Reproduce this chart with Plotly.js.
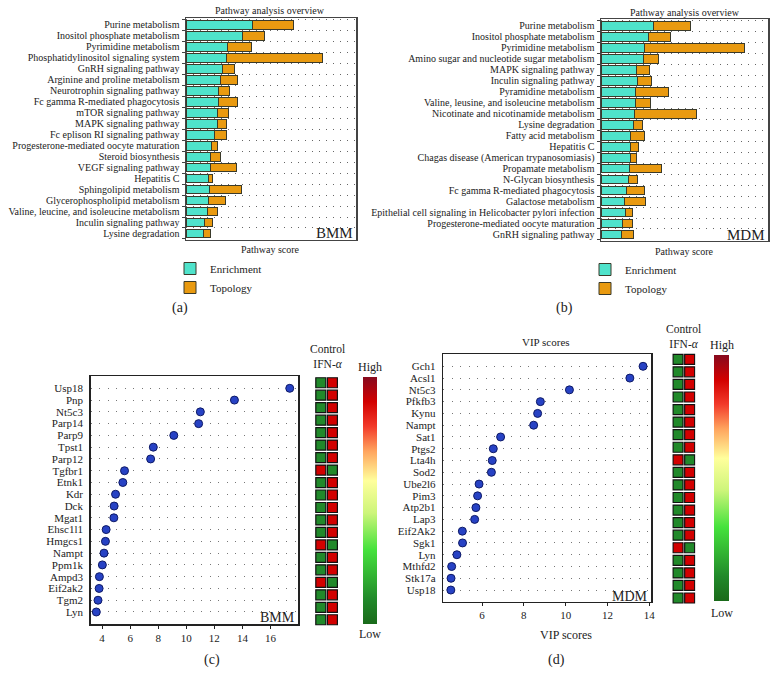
<!DOCTYPE html>
<html>
<head>
<meta charset="utf-8">
<script src="https://cdn.plot.ly/plotly-3.0.1.min.js"></script>
<style>
  body { margin: 0; background: #fff; }
  #chart { width: 778px; height: 686px; }
</style>
</head>
<body>
<div id="chart"></div>
<script>
// (a) BMM pathway analysis
var pathwaysA = ['Purine metabolism', 'Inositol phosphate metabolism', 'Pyrimidine metabolism',
  'Phosphatidylinositol signaling system', 'GnRH signaling pathway', 'Arginine and proline metabolism',
  'Neurotrophin signaling pathway', 'Fc gamma R-mediated phagocytosis', 'mTOR signaling pathway',
  'MAPK signaling pathway', 'Fc eplison RI signaling pathway', 'Progesterone-mediated oocyte maturation',
  'Steroid biosynthesis', 'VEGF signaling pathway', 'Hepatitis C', 'Sphingolipid metabolism',
  'Glycerophospholipid metabolism', 'Valine, leucine, and isoleucine metabolism',
  'Inculin signaling pathway', 'Lysine degradation'];
var enrichA = [6.67, 5.6, 4.1, 4.07, 3.6, 3.4, 3.27, 3.2, 3.13, 3.13, 2.83, 2.57, 2.43, 2.43, 2.27, 2.3, 2.27, 2.13, 1.8, 1.77];
var topoA = [4.03, 2.2, 2.47, 9.53, 1.27, 1.77, 1.07, 1.97, 1.1, 0.9, 1.17, 0.56, 0.97, 2.6, 0.4, 3.27, 1.66, 1.04, 0.87, 0.66];

// (b) MDM pathway analysis
var pathwaysB = ['Purine metabolism', 'Inositol phosphate metabolism', 'Pyrimidine metabolism',
  'Amino sugar and nucleotide sugar metabolism', 'MAPK signaling pathway', 'Inculin signaling pathway',
  'Pyramidine metabolism', 'Valine, leusine, and isoleucine metabolism', 'Nicotinate and nicotinamide metabolism',
  'Lysine degradation', 'Fatty acid metabolism', 'Hepatitis C', 'Chagas disease (American trypanosomiasis)',
  'Propamate metabolism', 'N-Glycan biosynthesis', 'Fc gamma R-mediated phagocytosis', 'Galactose metabolism',
  'Epithelial cell signaling in Helicobacter pylori infection', 'Progesterone-mediated oocyte maturation',
  'GnRH signaling pathway'];
var enrichB = [5.23, 4.73, 4.33, 4.27, 3.57, 3.6, 3.43, 3.43, 3.33, 3.23, 2.97, 2.9, 2.9, 2.83, 2.77, 2.57, 2.33, 2.43, 2.13, 2.03];
var topoB = [3.74, 2.17, 9.97, 1.46, 1.23, 1.47, 3.3, 1.5, 6.2, 0.9, 1.4, 0.83, 0.67, 3.2, 0.86, 1.73, 2.07, 0.7, 0.97, 1.2];

// (c) BMM VIP scores
var genesC = ['Usp18', 'Pnp', 'Nt5c3', 'Parp14', 'Parp9', 'Tpst1', 'Parp12', 'Tgfbr1', 'Etnk1', 'Kdr',
  'Dck', 'Mgat1', 'Ehsc1l1', 'Hmgcs1', 'Nampt', 'Ppm1k', 'Ampd3', 'Eif2ak2', 'Tgm2', 'Lyn'];
var vipC = [17.37, 13.43, 11.0, 10.88, 9.11, 7.65, 7.46, 5.6, 5.48, 4.96, 4.86, 4.84, 4.29, 4.24, 4.14, 4.02, 3.81, 3.79, 3.71, 3.59];
var ctrlC = [0.1, 0.1, 0.1, 0.1, 0.1, 0.1, 0.1, 0.9, 0.1, 0.1, 0.1, 0.1, 0.1, 0.9, 0.1, 0.1, 0.9, 0.1, 0.1, 0.1];
var ifnC = [0.9, 0.9, 0.9, 0.9, 0.9, 0.9, 0.9, 0.1, 0.9, 0.9, 0.9, 0.9, 0.9, 0.1, 0.9, 0.9, 0.1, 0.9, 0.9, 0.9];

// (d) MDM VIP scores
var genesD = ['Gch1', 'Acsl1', 'Nt5c3', 'Pfkfb3', 'Kynu', 'Nampt', 'Sat1', 'Ptgs2', 'Lta4h', 'Sod2',
  'Ube2l6', 'Pim3', 'Atp2b1', 'Lap3', 'Eif2Ak2', 'Sgk1', 'Lyn', 'Mthfd2', 'Stk17a', 'Usp18'];
var vipD = [13.70, 13.07, 10.18, 8.79, 8.66, 8.47, 6.89, 6.54, 6.49, 6.45, 5.86, 5.79, 5.71, 5.65, 5.06, 5.07, 4.80, 4.55, 4.52, 4.51];
var ctrlD = [0.1, 0.1, 0.1, 0.1, 0.1, 0.1, 0.1, 0.1, 0.9, 0.1, 0.1, 0.1, 0.1, 0.1, 0.1, 0.9, 0.1, 0.1, 0.1, 0.1];
var ifnD = [0.9, 0.9, 0.9, 0.9, 0.9, 0.9, 0.9, 0.9, 0.1, 0.9, 0.9, 0.9, 0.9, 0.9, 0.9, 0.1, 0.9, 0.9, 0.9, 0.9];

var groups = ['Control', 'IFN-α'];

var W = 778, H = 686;
function px(x) { return x / W; }
function py(y) { return 1 - y / H; }

var serif = 'Liberation Serif, Times New Roman, serif';
var enrichColor = '#4fe3cb';
var topoColor = '#e99a10';
var barLine = {color: '#3a3a2a', width: 1};
var heatScale = [[0, '#1a6a1a'], [0.1, '#21892a'], [0.3, '#45e23c'], [0.45, '#cdf57a'],
  [0.58, '#ffff9c'], [0.7, '#ffa45e'], [0.8, '#f23a2a'], [0.9, '#d20000'], [1, '#860a1e']];

function sq(vals, names, grp, xa, ya, bar) {
  var t = {
    x: names.map(function () { return grp; }),
    y: names,
    type: 'scatter', mode: 'markers',
    xaxis: xa, yaxis: ya, showlegend: false, hoverinfo: 'y',
    marker: {symbol: 'square', size: 10, color: vals, colorscale: heatScale, cmin: 0, cmax: 1,
      line: {color: '#111', width: 1.2}, showscale: !!bar}
  };
  if (bar) t.marker.colorbar = bar;
  return t;
}

var data = [
  {y: pathwaysA, x: enrichA, name: 'Enrichment', type: 'bar', orientation: 'h',
    marker: {color: enrichColor, line: barLine}, xaxis: 'x', yaxis: 'y', legend: 'legend'},
  {y: pathwaysA, x: topoA, name: 'Topology', type: 'bar', orientation: 'h',
    marker: {color: topoColor, line: barLine}, xaxis: 'x', yaxis: 'y', legend: 'legend'},
  {y: pathwaysB, x: enrichB, name: 'Enrichment', type: 'bar', orientation: 'h',
    marker: {color: enrichColor, line: barLine}, xaxis: 'x2', yaxis: 'y2', legend: 'legend2'},
  {y: pathwaysB, x: topoB, name: 'Topology', type: 'bar', orientation: 'h',
    marker: {color: topoColor, line: barLine}, xaxis: 'x2', yaxis: 'y2', legend: 'legend2'},
  {y: genesC, x: vipC, type: 'scatter', mode: 'markers', xaxis: 'x3', yaxis: 'y3', showlegend: false,
    marker: {color: '#2742c4', size: 8, line: {color: '#0e1a66', width: 1}}},
  {y: genesD, x: vipD, type: 'scatter', mode: 'markers', xaxis: 'x4', yaxis: 'y4', showlegend: false,
    marker: {color: '#2742c4', size: 8, line: {color: '#0e1a66', width: 1}}},
  sq(ctrlC, genesC, groups[0], 'x5', 'y5', null),
  sq(ifnC, genesC, groups[1], 'x5', 'y5', {x: px(363), xanchor: 'left', y: py(377), yanchor: 'top',
    len: 247, lenmode: 'pixels', thickness: 14, xpad: 0, ypad: 0, outlinewidth: 0,
    showticklabels: false, ticks: ''}),
  sq(ctrlD, genesD, groups[0], 'x6', 'y6', null),
  sq(ifnD, genesD, groups[1], 'x6', 'y6', {x: px(714), xanchor: 'left', y: py(355), yanchor: 'top',
    len: 246, lenmode: 'pixels', thickness: 15, xpad: 0, ypad: 0, outlinewidth: 0,
    showticklabels: false, ticks: ''})
];

function barY(dom, cats, anchor) {
  return {domain: dom, anchor: anchor, type: 'category', categoryorder: 'array', categoryarray: cats,
    tickmode: 'array', tickvals: cats, ticktext: cats, ticklabelstandoff: 3,
    range: [19.55, -0.6], showline: true, mirror: true, linecolor: '#444', linewidth: 1.5,
    ticks: 'outside', ticklen: 3, tickcolor: '#444', tickson: 'boundaries',
    showgrid: true, gridcolor: '#666', gridwidth: 1, griddash: '1px,6px',
    tickfont: {family: serif, size: 10, color: '#222'}};
}
function barX(dom, r, anchor) {
  return {domain: dom, anchor: anchor, range: r, showline: true, mirror: true, linecolor: '#444', linewidth: 1.5,
    showgrid: false, zeroline: false, showticklabels: false, ticks: ''};
}
function dotY(dom, cats, r, anchor) {
  return {domain: dom, anchor: anchor, type: 'category', categoryorder: 'array', categoryarray: cats,
    tickmode: 'array', tickvals: cats, ticktext: cats, ticklabelstandoff: 4,
    range: r, showline: true, mirror: true, linecolor: '#222', linewidth: 1.5, ticks: '',
    showgrid: true, gridcolor: '#777', gridwidth: 1, griddash: '1px,7.5px',
    tickfont: {family: serif, size: 11, color: '#222'}};
}
function dotX(dom, r, anchor) {
  return {domain: dom, anchor: anchor, range: r, dtick: 2, showline: true, mirror: true, linecolor: '#222',
    linewidth: 1.5, ticks: 'outside', ticklen: 3, tickcolor: '#222', showgrid: false, zeroline: false,
    tickfont: {family: serif, size: 11, color: '#222'}};
}
function heatY(dom, cats, anchor) {
  return {domain: dom, anchor: anchor, type: 'category', categoryorder: 'array', categoryarray: cats,
    range: [19.5, -0.5], showticklabels: false, showgrid: false, zeroline: false, showline: false, ticks: ''};
}
function heatX(dom, anchor) {
  return {domain: dom, anchor: anchor, type: 'category', categoryorder: 'array', categoryarray: groups,
    range: [-0.5, 1.5], showticklabels: false, showgrid: false, zeroline: false, showline: false, ticks: ''};
}

function note(text, x, y, size, anchor) {
  return {text: text, x: px(x), y: py(y), xref: 'paper', yref: 'paper', showarrow: false,
    xanchor: anchor || 'center', yanchor: 'middle', font: {family: serif, size: size, color: '#222'}};
}

var legendStyle = {font: {family: serif, size: 11, color: '#222'}, bgcolor: 'rgba(0,0,0,0)',
  traceorder: 'normal', itemwidth: 30, xanchor: 'left', yanchor: 'top'};

var layout = {
  width: W, height: H,
  margin: {l: 0, r: 0, t: 0, b: 0},
  paper_bgcolor: '#fff', plot_bgcolor: '#fff',
  barmode: 'stack', bargap: 0.2,
  font: {family: serif, color: '#222'},
  xaxis: barX([px(186), px(356)], [0, 17], 'y'),
  yaxis: barY([py(239.5), py(18.3)], pathwaysA, 'x'),
  xaxis2: barX([px(601), px(768)], [0, 16.7], 'y2'),
  yaxis2: barY([py(240.5), py(19.3)], pathwaysB, 'x2'),
  xaxis3: dotX([px(90.7), px(298.3)], [3.19, 17.98], 'y3'),
  yaxis3: dotY([py(624), py(376.3)], genesC, [20.02, -1.02], 'x3'),
  xaxis4: dotX([px(443.3), px(651)], [4.15, 14.08], 'y4'),
  yaxis4: dotY([py(601.7), py(354.3)], genesD, [19.99, -1.02], 'x4'),
  xaxis5: heatX([px(315), px(338.2)], 'y5'),
  yaxis5: heatY([py(626), py(376.5)], genesC, 'x5'),
  xaxis6: heatX([px(672.2), px(695.5)], 'y6'),
  yaxis6: heatY([py(604.3), py(353)], genesD, 'x6'),
  legend: Object.assign({x: px(170), y: py(254)}, legendStyle),
  legend2: Object.assign({x: px(585), y: py(255)}, legendStyle),
  annotations: [
    note('Pathway analysis overview', 270, 11, 10),
    note('Pathway analysis overview', 685, 13, 10),
    note('Pathway score', 270, 249, 10),
    note('Pathway score', 684, 252, 10),
    note('BMM', 355, 233, 15, 'right'),
    note('MDM', 767, 235, 15, 'right'),
    note('BMM', 297, 617, 14, 'right'),
    note('MDM', 650, 596, 14, 'right'),
    note('VIP scores', 546, 342, 11),
    note('VIP scores', 566, 635, 12),
    note('Control<br>IFN-<i>α</i>', 327.5, 356, 11.5),
    note('Control<br>IFN-<i>α</i>', 683, 337, 11.5),
    note('High', 370, 367, 12),
    note('Low', 370, 634, 12),
    note('High', 722, 345, 12),
    note('Low', 722, 613, 12),
    note('(a)', 180, 308, 14),
    note('(b)', 564, 308, 14),
    note('(c)', 212, 660, 14),
    note('(d)', 556, 660, 14)
  ]
};

Plotly.newPlot('chart', data, layout, {displayModeBar: false, staticPlot: true});
</script>
</body>
</html>
